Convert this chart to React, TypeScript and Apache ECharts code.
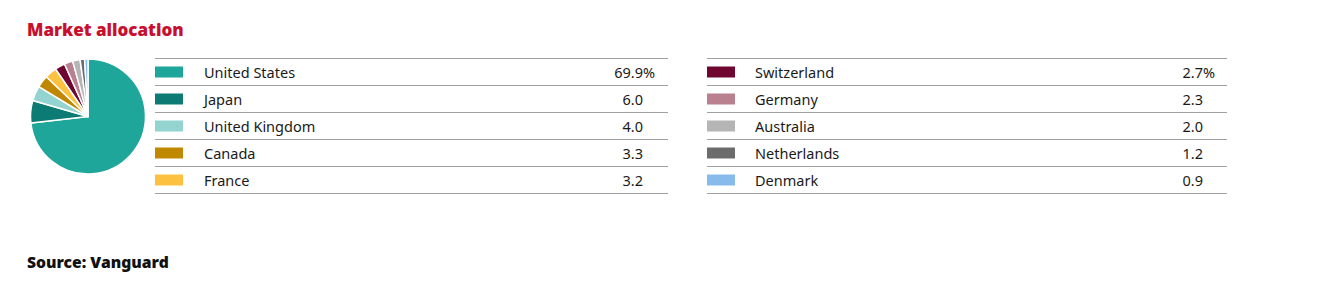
import React, { useEffect, useRef } from "react";
import * as echarts from "echarts";

const countries = [
  "United States",
  "Japan",
  "United Kingdom",
  "Canada",
  "France",
  "Switzerland",
  "Germany",
  "Australia",
  "Netherlands",
  "Denmark",
];
const allocations = [69.9, 6.0, 4.0, 3.3, 3.2, 2.7, 2.3, 2.0, 1.2, 0.9];
const colors = [
  "#1fa69a",
  "#0b7b73",
  "#93d3d0",
  "#c08700",
  "#fcc13f",
  "#6e0630",
  "#b98090",
  "#b5b5b5",
  "#6c6c6c",
  "#86bbeb",
];
const titleText = "Market allocation";
const sourceText = "Source: Vanguard";

const FONT = "'Noto Sans', 'Open Sans', sans-serif";

export default function App() {
  const ref = useRef<HTMLDivElement>(null);

  useEffect(() => {
    document.body.style.margin = "0";
    const chart = echarts.init(ref.current!, null, { renderer: "svg" });

    const columns = [
      { x0: 155, x1: 668, nameX: 204, valX: 643 },
      { x0: 707, x1: 1227, nameX: 755, valX: 1203 },
    ];
    const rowH = 27;
    const topY = 58.5;
    const perCol = 5;

    const graphics: any[] = [];
    columns.forEach((col, c) => {
      for (let r = 0; r <= perCol; r++) {
        const y = topY + r * rowH;
        graphics.push({
          type: "line",
          shape: { x1: col.x0, y1: y, x2: col.x1, y2: y },
          style: { stroke: "#a0a0a0", lineWidth: 1 },
          silent: true,
        });
      }
      for (let r = 0; r < perCol; r++) {
        const i = c * perCol + r;
        const cy = topY + r * rowH + rowH / 2;
        graphics.push({
          type: "rect",
          shape: { x: col.x0, y: cy - 5.5, width: 28, height: 11 },
          style: { fill: colors[i] },
          silent: true,
        });
        graphics.push({
          type: "text",
          x: col.nameX,
          y: cy,
          style: {
            text: countries[i],
            fill: "#1a1a1a",
            font: `14.5px ${FONT}`,
            textAlign: "left",
            textVerticalAlign: "middle",
          },
          silent: true,
        });
        graphics.push({
          type: "text",
          x: col.valX,
          y: cy,
          style: {
            text: allocations[i].toFixed(1),
            fill: "#1a1a1a",
            font: `14.5px ${FONT}`,
            textAlign: "right",
            textVerticalAlign: "middle",
          },
          silent: true,
        });
        if (r === 0) {
          graphics.push({
            type: "text",
            x: col.valX,
            y: cy,
            style: {
              text: "%",
              fill: "#1a1a1a",
              font: `14.5px ${FONT}`,
              textAlign: "left",
              textVerticalAlign: "middle",
            },
            silent: true,
          });
        }
      }
    });

    graphics.push({
      type: "text",
      x: 27,
      y: 29,
      style: {
        text: titleText,
        fill: "#c8102e",
        font: `900 17px ${FONT}`,
        textAlign: "left",
        textVerticalAlign: "middle",
      },
      silent: true,
    });
    graphics.push({
      type: "text",
      x: 27,
      y: 262,
      style: {
        text: sourceText,
        fill: "#111111",
        font: `900 15.7px ${FONT}`,
        textAlign: "left",
        textVerticalAlign: "middle",
      },
      silent: true,
    });

    chart.setOption({
      animation: false,
      backgroundColor: "#ffffff",
      graphic: graphics,
      series: [
        {
          type: "pie",
          center: [88, 116.5],
          radius: [0, 57.5],
          startAngle: 90,
          clockwise: true,
          silent: true,
          label: { show: false },
          labelLine: { show: false },
          itemStyle: { borderColor: "#ffffff", borderWidth: 1.5 },
          data: countries.map((name, i) => ({
            name,
            value: allocations[i],
            itemStyle: { color: colors[i] },
          })),
        },
      ],
    });

    return () => chart.dispose();
  }, []);

  return <div ref={ref} style={{ width: 1332, height: 295 }} />;
}
